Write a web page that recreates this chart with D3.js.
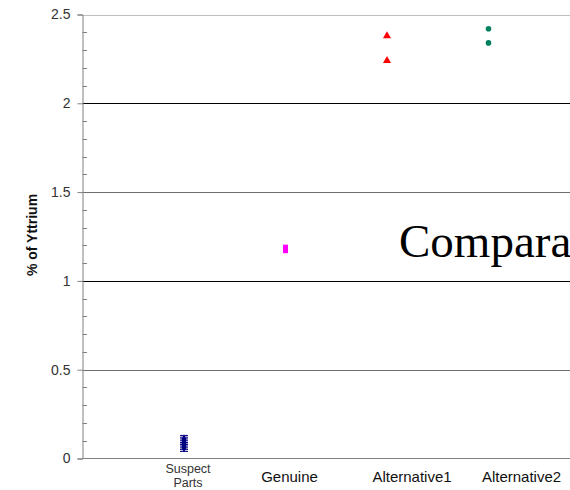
<!DOCTYPE html>
<html>
<head>
<meta charset="utf-8">
<script src="https://cdn.jsdelivr.net/npm/d3@7"></script>
<style>
  body { margin: 0; background: #fff; }
</style>
</head>
<body>
<div id="chart"></div>
<script>
// categories sit at positions 1..4 on the x axis
let categories = ['Suspect Parts', 'Genuine', 'Alternative1', 'Alternative2']
let suspectValues = [0.11, 0.10, 0.09, 0.08, 0.07, 0.06]
let suspectError = 0.02
let genuineValues = [1.19, 1.17]
let alt1Values = [2.38, 2.24]
let alt2Values = [2.42, 2.34]
let yTicks = [0, 0.5, 1, 1.5, 2, 2.5]

let width = 570
let height = 490
let sans = 'Arial, "Liberation Sans", sans-serif'

let svg = d3
  .select('#chart')
  .append('svg')
  .attr('width', width)
  .attr('height', height)
  .style('font-family', sans)

let xPositionScale = d3.scaleLinear().domain([0, 5]).range([82.5, 590])
let yPositionScale = d3.scaleLinear().domain([0, 2.5]).range([458.5, 14.5])

// gridlines
svg
  .selectAll('.grid')
  .data(yTicks.filter(d => d > 0))
  .enter()
  .append('line')
  .attr('class', 'grid')
  .attr('x1', 82.5)
  .attr('x2', width)
  .attr('y1', d => Math.round(yPositionScale(d)) + 0.5)
  .attr('y2', d => Math.round(yPositionScale(d)) + 0.5)
  .attr('stroke', d => (d === 2.5 ? '#c0c0c0' : d % 1 === 0 ? '#000' : '#6e6e6e'))

// y axis: major ticks out, minor ticks in
let yAxis = d3
  .axisLeft(yPositionScale)
  .tickValues(yTicks)
  .tickSize(5)
  .tickPadding(7)
  .tickFormat(d3.format('~g'))

let yAxisG = svg
  .append('g')
  .attr('transform', 'translate(' + 82.5 + ',0)')
  .call(yAxis)
yAxisG.select('.domain').attr('stroke', '#808080')
yAxisG.selectAll('.tick line').attr('stroke', '#808080')
yAxisG.selectAll('.tick text').attr('font-size', 14).attr('fill', '#333').style('font-family', sans)

let minorTicks = d3.range(0, 2.5, 0.1).filter(d => Math.abs(d * 2 - Math.round(d * 2)) > 0.01)
svg
  .selectAll('.minor')
  .data(minorTicks)
  .enter()
  .append('line')
  .attr('x1', 82.5)
  .attr('x2', 87)
  .attr('y1', d => Math.round(yPositionScale(d)) + 0.5)
  .attr('y2', d => Math.round(yPositionScale(d)) + 0.5)
  .attr('stroke', '#808080')

// x axis line
svg
  .append('line')
  .attr('x1', 82.5)
  .attr('x2', width)
  .attr('y1', yPositionScale(0))
  .attr('y2', yPositionScale(0))
  .attr('stroke', '#808080')

// category labels (the original slide has them drifting right of the marks)
let labelShift = [4, 4, 25, 33]
let labelG = svg.append('g')
categories.forEach((c, i) => {
  let cx = xPositionScale(i + 1) + labelShift[i]
  if (c === 'Suspect Parts') {
    let t = labelG
      .append('text')
      .attr('text-anchor', 'middle')
      .attr('font-size', 12.5)
      .attr('fill', '#333')
    t.append('tspan').attr('x', cx).attr('y', 473).text('Suspect')
    t.append('tspan').attr('x', cx).attr('y', 487).text('Parts')
  } else {
    labelG
      .append('text')
      .attr('x', cx)
      .attr('y', 482)
      .attr('text-anchor', 'middle')
      .attr('font-size', 15)
      .attr('fill', '#111')
      .text(c)
  }
})

// y label
svg
  .append('text')
  .attr('transform', 'translate(37,235) rotate(-90)')
  .attr('text-anchor', 'middle')
  .attr('font-size', 14)
  .attr('font-weight', 'bold')
  .attr('fill', '#111')
  .text('% of Yttrium')

// suspect parts: error bars + diamonds
let sx = xPositionScale(1)
suspectValues.forEach(v => {
  svg
    .append('line')
    .attr('x1', sx)
    .attr('x2', sx)
    .attr('y1', yPositionScale(v + suspectError))
    .attr('y2', yPositionScale(v - suspectError))
    .attr('stroke', '#000080')
  ;[v + suspectError, v - suspectError].forEach(e => {
    svg
      .append('line')
      .attr('x1', sx - 4)
      .attr('x2', sx + 4)
      .attr('y1', yPositionScale(e))
      .attr('y2', yPositionScale(e))
      .attr('stroke', '#000080')
  })
})
svg
  .selectAll('.suspect')
  .data(suspectValues)
  .enter()
  .append('path')
  .attr('d', d3.symbol(d3.symbolDiamond, 22))
  .attr('transform', d => 'translate(' + sx + ',' + yPositionScale(d) + ')')
  .attr('fill', '#000080')

// genuine: squares
svg
  .selectAll('.genuine')
  .data(genuineValues)
  .enter()
  .append('rect')
  .attr('x', xPositionScale(2) - 2.5)
  .attr('y', d => yPositionScale(d) - 2.5)
  .attr('width', 5)
  .attr('height', 5)
  .attr('fill', '#ff00ff')

// alternative1: triangles
svg
  .selectAll('.alt1')
  .data(alt1Values)
  .enter()
  .append('path')
  .attr('d', d3.symbol(d3.symbolTriangle, 28))
  .attr('transform', d => 'translate(' + xPositionScale(3) + ',' + yPositionScale(d) + ')')
  .attr('fill', '#ff0000')

// alternative2: circles
svg
  .selectAll('.alt2')
  .data(alt2Values)
  .enter()
  .append('circle')
  .attr('cx', xPositionScale(4))
  .attr('cy', d => yPositionScale(d))
  .attr('r', 2.8)
  .attr('fill', '#008060')

// stray slide title, clipped by the slide edge
svg
  .append('text')
  .attr('x', 399)
  .attr('y', 257)
  .style('font-family', '"Liberation Serif", "Times New Roman", serif')
  .attr('font-size', 47)
  .attr('fill', '#000')
  .text('Compara')
</script>
</body>
</html>
